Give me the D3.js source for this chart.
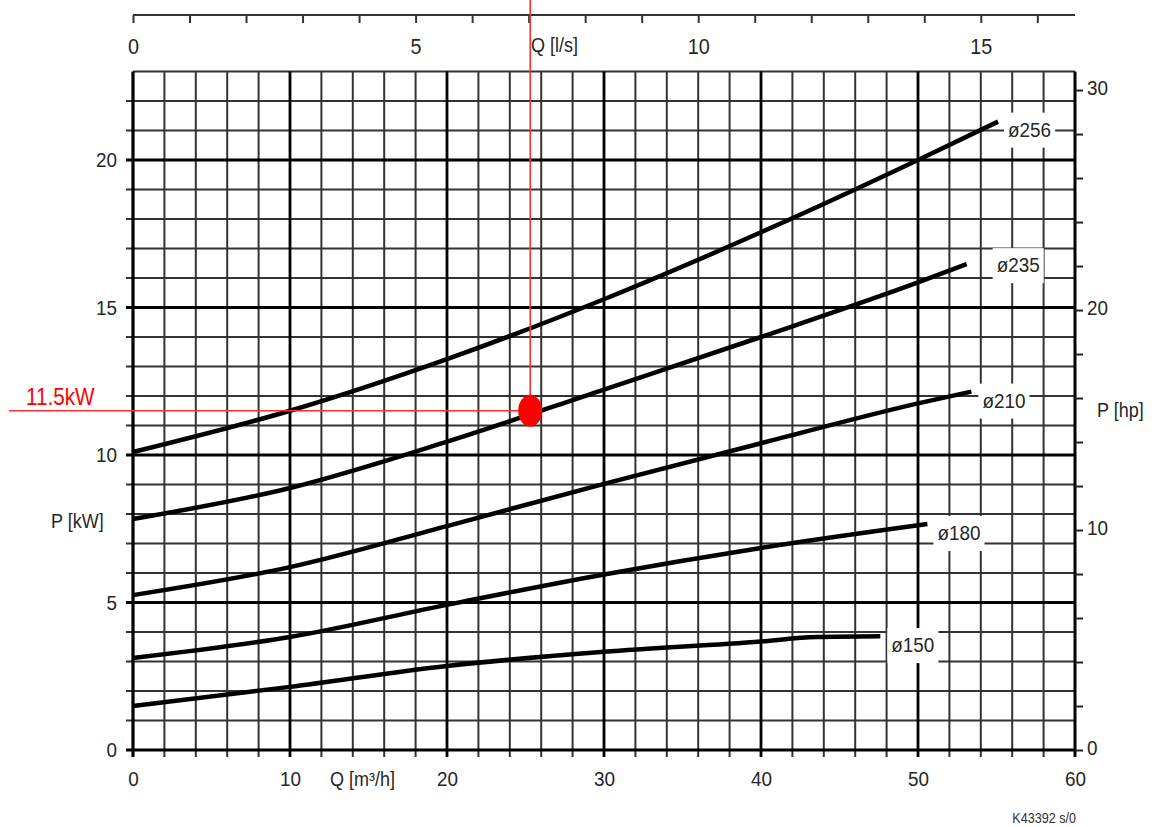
<!DOCTYPE html>
<html>
<head>
<meta charset="utf-8">
<script src="https://cdn.jsdelivr.net/npm/d3@7"></script>
<style>
  html, body { margin: 0; padding: 0; background: #fff; }
  svg { display: block; }
  text { font-family: "Liberation Sans", Arial, sans-serif; }
</style>
</head>
<body>
<svg id="chart" width="1154" height="827"></svg>
<script>
// ---------- DATA ----------
const qTickLabels = [0, 10, 20, 30, 40, 50, 60];      // Q [m³/h]
const lsTickLabels = [0, 5, 10, 15];                  // Q [l/s]
const kwTickLabels = [0, 5, 10, 15, 20];              // P [kW]
const hpTickLabels = [0, 10, 20, 30];                 // P [hp]

const curveNames = ["ø256", "ø235", "ø210", "ø180", "ø150"];
const q256 = [0, 10, 20, 30, 40, 50, 55.1];
const p256 = [10.1, 11.5, 13.25, 15.28, 17.55, 20.0, 21.3];
const q235 = [0, 10, 20, 30, 40, 50, 53.1];
const p235 = [7.83, 8.88, 10.45, 12.22, 14.0, 15.85, 16.47];
const q210 = [0, 10, 20, 30, 40, 50, 53.4];
const p210 = [5.25, 6.2, 7.59, 9.02, 10.4, 11.75, 12.15];
const q180 = [0, 10, 20, 30, 40, 50.6];
const p180 = [3.12, 3.83, 4.92, 5.95, 6.85, 7.66];
const q150 = [0, 10, 20, 30, 40, 43.5, 47.6];
const p150 = [1.49, 2.14, 2.85, 3.33, 3.68, 3.83, 3.86];

const opQ = [25.3];     // operating point flow [m³/h]
const opP = [11.5];     // operating point power [kW]
const opLabel = "11.5kW";
const footnote = "K43392 s/0";

// ---------- LAYOUT ----------
const W = 1154, H = 827;
const L = 133, R = 1075, T = 71.5, B = 750;
const qMax = 60, pMax = 23;
const svg = d3.select("#chart");
svg.append("rect").attr("width", W).attr("height", H).attr("fill", "#fff");

const x = d3.scaleLinear().domain([0, qMax]).range([L, R]);
const y = d3.scaleLinear().domain([0, pMax]).range([B, T]);
const xls = d3.scaleLinear().domain([0, qMax / 3.6]).range([L, R]);
const yhp = d3.scaleLinear().domain([0, pMax / 0.7457]).range([B, T]);

const TXT = "#262626";
const SX = 0.9;

// ---------- GRID ----------
const gGrid = svg.append("g");
const vVals = d3.range(0, qMax + 0.001, 2);
const hVals = d3.range(0, pMax + 0.001, 1);

// minor lines
gGrid.selectAll("line.hmin").data(hVals.filter(v => v % 5 !== 0 && v !== pMax)).join("line")
  .attr("x1", L - 7).attr("x2", R).attr("y1", d => y(d)).attr("y2", d => y(d))
  .attr("stroke", "#333").attr("stroke-width", 2);
gGrid.append("line").attr("x1", L).attr("x2", R).attr("y1", y(pMax)).attr("y2", y(pMax))
  .attr("stroke", "#333").attr("stroke-width", 2);
gGrid.selectAll("line.vmin").data(vVals.filter(v => v % 10 !== 0)).join("line")
  .attr("x1", d => x(d)).attr("x2", d => x(d)).attr("y1", T).attr("y2", B + 7)
  .attr("stroke", "#333").attr("stroke-width", 2);
// major lines
gGrid.selectAll("line.hmaj").data(hVals.filter(v => v % 5 === 0 && v > 0)).join("line")
  .attr("x1", L - 7).attr("x2", R).attr("y1", d => y(d)).attr("y2", d => y(d))
  .attr("stroke", "#000").attr("stroke-width", 2.8);
gGrid.selectAll("line.vmaj").data(vVals.filter(v => v % 10 === 0 && v > 0 && v < qMax)).join("line")
  .attr("x1", d => x(d)).attr("x2", d => x(d)).attr("y1", T).attr("y2", B + 7)
  .attr("stroke", "#000").attr("stroke-width", 2.8);
// axis frame lines
gGrid.append("line").attr("x1", L).attr("x2", L).attr("y1", T).attr("y2", B + 7)
  .attr("stroke", "#000").attr("stroke-width", 3.2);
gGrid.append("line").attr("x1", R).attr("x2", R).attr("y1", T).attr("y2", B + 7)
  .attr("stroke", "#000").attr("stroke-width", 3);
gGrid.append("line").attr("x1", L - 7).attr("x2", R).attr("y1", y(0)).attr("y2", y(0))
  .attr("stroke", "#000").attr("stroke-width", 3.2);

// ---------- AXES ----------
function styleText(sel, size) {
  sel.selectAll("text").attr("font-size", size).attr("fill", TXT)
    .attr("font-family", "'Liberation Sans', Arial, sans-serif");
}
// bottom axis (m³/h): labels only (ticks are the extended grid lines)
const axB = svg.append("g").attr("transform", `translate(0,${B})`)
  .call(d3.axisBottom(x).tickValues(qTickLabels).tickSize(0).tickPadding(22).tickFormat(d3.format("d")));
axB.select(".domain").remove();
styleText(axB, 21);
axB.selectAll("text").attr("dy", "0.35em").attr("y", 29).attr("transform", `scale(${SX},1)`);

// left axis (kW): labels
const axL = svg.append("g").attr("transform", `translate(${L},0)`)
  .call(d3.axisLeft(y).tickValues(kwTickLabels).tickSize(0).tickPadding(16).tickFormat(d3.format("d")));
axL.select(".domain").remove();
styleText(axL, 21);
axL.selectAll("text").attr("transform", `scale(${SX},1)`).attr("x", -16 / SX);

// right axis (hp): ticks every 2 hp, labels at 0,10,20,30
const axR = svg.append("g").attr("transform", `translate(${R},0)`)
  .call(d3.axisRight(yhp).tickValues(d3.range(0, 31, 2)).tickSize(8).tickPadding(5)
    .tickFormat(d => hpTickLabels.includes(d) ? d3.format("d")(d) : ""));
axR.select(".domain").remove();
axR.selectAll("line").attr("stroke", "#222").attr("stroke-width", 2);
styleText(axR, 21);
axR.selectAll("text").attr("transform", `scale(${SX},1)`).attr("x", 12 / SX).attr("dy", "0.2em");

// top axis (l/s)
const axT = svg.append("g").attr("transform", "translate(0,15)")
  .call(d3.axisBottom(xls).tickValues(d3.range(0, 17, 1)).tickSize(8).tickSizeOuter(0)
    .tickFormat(d => lsTickLabels.includes(d) ? d3.format("d")(d) : ""));
axT.select(".domain").attr("d", `M${L},0H${R}`).attr("stroke", "#333").attr("stroke-width", 2.2);
axT.selectAll("line").attr("stroke", "#333").attr("stroke-width", 2);
styleText(axT, 22);
axT.selectAll("text").attr("y", 31).attr("dy", "0.35em").attr("transform", `scale(${SX},1)`);

// axis titles
function txt(xp, yp, s, anchor, size, color) {
  return svg.append("text")
    .attr("transform", `translate(${xp},${yp}) scale(${SX},1)`)
    .attr("text-anchor", anchor || "start").attr("dy", "0.35em")
    .attr("font-size", size || 20).attr("fill", color || TXT).text(s);
}
txt(531, 45, "Q [l/s]", "start", 20);
txt(330, 779, "Q [m³/h]", "start", 20);
txt(51, 521, "P [kW]", "start", 20);
txt(1097, 410, "P [hp]", "start", 20);
txt(1076, 818, footnote, "end", 14, "#333");

// ---------- CURVES ----------
const series = [
  { name: curveNames[0], q: q256, p: p256 },
  { name: curveNames[1], q: q235, p: p235 },
  { name: curveNames[2], q: q210, p: p210 },
  { name: curveNames[3], q: q180, p: p180 },
  { name: curveNames[4], q: q150, p: p150 }
];
const labelOffset = { "ø256": [8, 8], "ø235": [28, 1], "ø210": [9, 9], "ø180": [8, 9], "ø150": [9, 9] };

const line = d3.line().x(d => x(d[0])).y(d => y(d[1])).curve(d3.curveMonotoneX);
const gCurves = svg.append("g");
series.forEach(s => {
  const pts = s.q.map((q, i) => [q, s.p[i]]);
  gCurves.append("path").datum(pts).attr("d", line)
    .attr("fill", "none").attr("stroke", "#000").attr("stroke-width", 4.5);
  const last = pts[pts.length - 1];
  const off = labelOffset[s.name];
  const lx = x(last[0]) + off[0], ly = y(last[1]) + off[1];
  const t = txt(lx + 2, ly, s.name, "start", 21, TXT);
  const bb = t.node().getBBox();
  const tw = bb.width * SX;
  svg.insert("rect", () => t.node())
    .attr("x", lx - 2).attr("y", ly - 17).attr("width", tw + 8).attr("height", 35)
    .attr("fill", "#fff");
});

// ---------- OPERATING POINT ----------
const gOp = svg.append("g");
gOp.append("line").attr("x1", 9).attr("x2", x(opQ[0])).attr("y1", y(opP[0])).attr("y2", y(opP[0]))
  .attr("stroke", "#ff3030").attr("stroke-width", 1.6);
gOp.append("line").attr("x1", x(opQ[0])).attr("x2", x(opQ[0])).attr("y1", 0).attr("y2", y(opP[0]))
  .attr("stroke", "#ff3030").attr("stroke-width", 1.6);
gOp.append("ellipse").attr("cx", x(opQ[0])).attr("cy", y(opP[0])).attr("rx", 12).attr("ry", 16)
  .attr("fill", "#ff0000");
svg.append("text")
  .attr("transform", `translate(26,${y(opP[0]) - 6}) scale(${SX},1)`)
  .attr("font-size", 23).attr("fill", "#ff0000").text(opLabel);
</script>
</body>
</html>
